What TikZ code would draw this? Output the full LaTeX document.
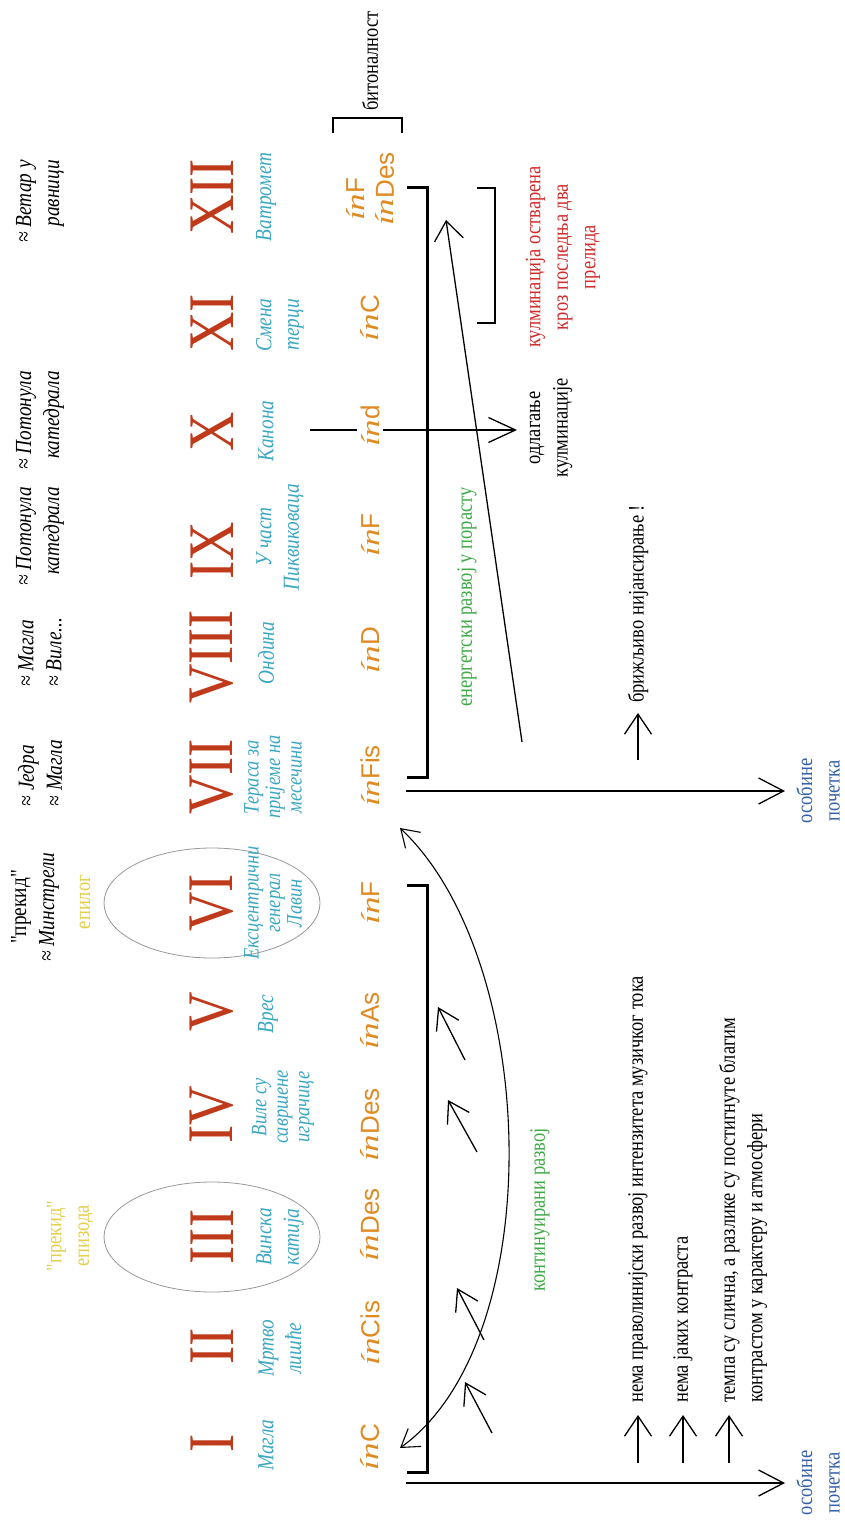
\documentclass[tikz,border=0pt]{standalone}
\usepackage{fontspec}
\usepackage{graphicx}
\setmainfont{Liberation Serif}[FakeStretch=0.84]
\newfontfamily\qfont{Liberation Serif}[FakeStretch=0.84]
\newfontfamily\keyfont{Liberation Sans}
\newfontfamily\infont{Liberation Serif}
\usetikzlibrary{arrows.meta}
\definecolor{romanc}{HTML}{BF3A1A}
\definecolor{titlec}{HTML}{3BA7C2}
\definecolor{keyc}{HTML}{E08A22}
\definecolor{yelc}{HTML}{E3CF4A}
\definecolor{greenc}{HTML}{3FAA45}
\definecolor{bluec}{HTML}{3560A8}
\definecolor{redc}{HTML}{D12A2A}
\newcommand\keyin[1]{{\infont\itshape\scalebox{1.35}[1]{ín}}#1}
\tikzset{
  rom/.style={rotate=90, text=romanc, font=\fontsize{65}{70}\selectfont, inner sep=0pt},
  ttl/.style={rotate=90, text=titlec, font=\fontsize{23}{27.5}\selectfont\itshape, align=center, inner sep=0pt},
  ttlthree/.style={rotate=90, text=titlec, font=\fontsize{22}{21.5}\selectfont\itshape, align=center, inner sep=0pt},
  keyn/.style={rotate=90, text=keyc, font={\keyfont\fontsize{26}{30}\selectfont}, inner sep=1pt},
  txt/.style={rotate=90, font=\fontsize{22}{27.5}\selectfont, inner sep=0pt, align=center},
  itx/.style={rotate=90, font=\fontsize{23}{28}\selectfont\itshape, inner sep=0pt},
  brk/.style={line width=3pt},
  thinbrk/.style={line width=2pt},
  arr/.style={line width=1.3pt, -{Straight Barb[length=24pt,width=27pt,line width=1.3pt]}},
  smallarr/.style={line width=1.3pt, -{Straight Barb[length=20pt,width=27pt,line width=1.3pt]}},
  ell/.style={draw=gray!80, line width=0.8pt}
}
\begin{document}
\begin{tikzpicture}[x=1pt,y=-1pt]
\useasboundingbox (0,0) rectangle (844,1522);
\fill[white] (0,0) rectangle (844,1522);

% ellipses
\draw[ell] (212,903) ellipse [x radius=108pt, y radius=55pt];
\draw[ell] (212,1237) ellipse [x radius=108pt, y radius=55pt];

% roman numerals
\node[rom] (r1) at (212,1443) {I};
\node[rom] (r2) at (212,1346) {II};
\node[rom] (r3) at (212,1237) {III};
\node[rom] (r4) at (212,1115) {IV};
\node[rom] (r5) at (212,1012) {V};
\node[rom] (r6) at (212,903) {VI};
\node[rom] (r7) at (212,777) {VII};
\node[rom] (r8) at (212,657) {VIII};
\node[rom] (r9) at (212,551) {IX};
\node[rom] (r10) at (212,432) {X};
\node[rom] (r11) at (212,323) {XI};
\node[rom] (r12) at (212,197) {XII};

% titles
\node[ttl] (t1) at (266,1445) {Магла};
\node[ttl] (t2) at (280,1348) {Мртво\\лишће};
\node[ttl] (t3) at (280,1237) {Винска\\катија};
\node[ttlthree] (t4) at (283,1107) {Виле су\\савршене\\играчице};
\node[ttl] (t5) at (268,1014) {Врес};
\node[ttlthree] (t6) at (273,903) {Ексцентрични\\генерал\\Лавин};
\node[ttlthree] (t7) at (273,777) {Тераса за\\пријеме на\\месечини};
\node[ttl] (t8) at (266,653) {Ондина};
\node[ttl] (t9) at (280,537) {У част\\Пиквиковаца};
\node[ttl] (t10) at (266,431) {Канона};
\node[ttl] (t11) at (280,325) {Смена\\терци};
\node[ttl] (t12) at (266,197) {Ватромет};

% top remarks
\node[itx, anchor=east, align=right] (n12) at (40,160) {≈ Ветар у\\равници};
\node[itx, anchor=east, align=right] (n10) at (40,371) {≈ Потонула\\катедрала};
\node[itx, anchor=east, align=right] (n9) at (40,487) {≈ Потонула\\катедрала};
\node[itx, align=left] (n8) at (40,652) {≈ Магла\\≈ Виле...};
\node[itx, align=left] (n7) at (40,773) {≈ Једра\\≈ Магла};
\node[itx, align=center] (n6) at (35,907) {{\qfont\upshape "прекид"}\\≈ Минстрели};
\node[txt, text=yelc] (y6) at (85,902) {епилог};
\node[txt, text=yelc] (y3) at (70,1236) {{\qfont "прекид"}\\епизода};

% X line (behind key)
\coordinate (xs) at (310,430);
\coordinate (xe) at (517,430);
\draw[arr, -{Straight Barb[length=27pt,width=25pt,line width=1.3pt]}] (xs) -- (xe);

% keys
\node[keyn] (k1) at (370,1447) {\keyin{C}};
\node[keyn] (k2) at (370,1333) {\keyin{Cis}};
\node[keyn] (k3) at (370,1225) {\keyin{Des}};
\node[keyn] (k4) at (370,1125) {\keyin{Des}};
\node[keyn] (k5) at (370,1021) {\keyin{As}};
\node[keyn] (k6) at (370,903) {\keyin{F}};
\node[keyn] (k7) at (370,776) {\keyin{Fis}};
\node[keyn] (k8) at (370,650) {\keyin{D}};
\node[keyn] (k9) at (370,535) {\keyin{F}};
\node[keyn, fill=white, inner sep=3pt] (k10) at (370,426) {\keyin{d}};
\node[keyn] (k11) at (370,318) {\keyin{C}};
\node[keyn, anchor=west] (k12a) at (355,222) {\keyin{F}};
\node[keyn, anchor=west] (k12b) at (385,227) {\keyin{Des}};

% brackets
\draw[brk] (407,1472) -- (427,1472) -- (427,885) -- (407,885);
\draw[brk] (407,777) -- (427,777) -- (427,188) -- (407,188);
\draw[thinbrk] (333,133) -- (333,118) -- (402,118) -- (402,133);
\draw[thinbrk] (477,188) -- (495,188) -- (495,323) -- (477,323);

% texts on right
\node[txt] (bit) at (370,61) {битоналност};
\node[txt, text=redc] (kul) at (563,257) {кулминација остварена\\кроз последња два\\прелида};
\node[txt] (odl) at (551,428) {одлагање\\кулминације};
\node[txt, text=greenc] (ener) at (467,597) {енергетски развој у порасту};
\node[txt, text=greenc] (kont) at (540,1210) {континуирани развој};
\node[txt, anchor=west] (briz) at (638,703) {брижљиво нијансирање !};
\node[txt, text=bluec] (ob1) at (818,791) {особине\\почетка};
\node[txt, text=bluec] (ob2) at (818,1483) {особине\\почетка};
\node[txt, anchor=west] (m1) at (638,1403) {нема праволинијски развој интензитета музичког тока};
\node[txt, anchor=west] (m2) at (683,1403) {нема јаких контраста};
\node[txt, anchor=west, align=left] (m3) at (743,1403) {темпа су слична, а разлике су постигнуте благим\\контрастом у карактеру и атмосфери};

% arrows
\coordinate (o1s) at (406,791);  \coordinate (o1e) at (785,791);
\coordinate (o2s) at (406,1483); \coordinate (o2e) at (785,1483);
\draw[arr, -{Straight Barb[length=25pt,width=26pt,line width=1.3pt]}] (o1s) -- (o1e);
\draw[arr, -{Straight Barb[length=25pt,width=26pt,line width=1.3pt]}] (o2s) -- (o2e);

\coordinate (ds) at (522,742); \coordinate (de) at (446,220);
\draw[line width=1.3pt, -{Straight Barb[length=19pt,width=29pt,line width=1.3pt]}] (ds) -- (de);

\coordinate (bs) at (638,760); \coordinate (be) at (638,713);
\draw[smallarr] (bs) -- (be);
\coordinate (p1s) at (638,1463); \coordinate (p1e) at (638,1415);
\coordinate (p2s) at (683,1463); \coordinate (p2e) at (683,1415);
\coordinate (p3s) at (729,1463); \coordinate (p3e) at (729,1415);
\draw[smallarr] (p1s) -- (p1e);
\draw[smallarr] (p2s) -- (p2e);
\draw[smallarr] (p3s) -- (p3e);

% arc
\coordinate (arcA) at (400,828); \coordinate (arcB) at (400,1448);
\draw[line width=1.1pt, {Straight Barb[length=17pt,width=22pt,line width=1.1pt]}-{Straight Barb[length=17pt,width=22pt,line width=1.1pt]}]
  (arcA) .. controls (540,960) and (550,1340) .. (arcB);

% small arrows inside arc
\coordinate (q1s) at (492,1433); \coordinate (q1e) at (465,1382);
\coordinate (q2s) at (484,1340); \coordinate (q2e) at (457,1288);
\coordinate (q3s) at (477,1152); \coordinate (q3e) at (448,1100);
\coordinate (q4s) at (465,1060); \coordinate (q4e) at (438,1007);
\draw[smallarr, -{Straight Barb[length=20pt,width=25pt,line width=1.3pt]}] (q1s) -- (q1e);
\draw[smallarr, -{Straight Barb[length=20pt,width=25pt,line width=1.3pt]}] (q2s) -- (q2e);
\draw[smallarr, -{Straight Barb[length=20pt,width=25pt,line width=1.3pt]}] (q3s) -- (q3e);
\draw[smallarr, -{Straight Barb[length=20pt,width=25pt,line width=1.3pt]}] (q4s) -- (q4e);
\end{tikzpicture}
\end{document}
